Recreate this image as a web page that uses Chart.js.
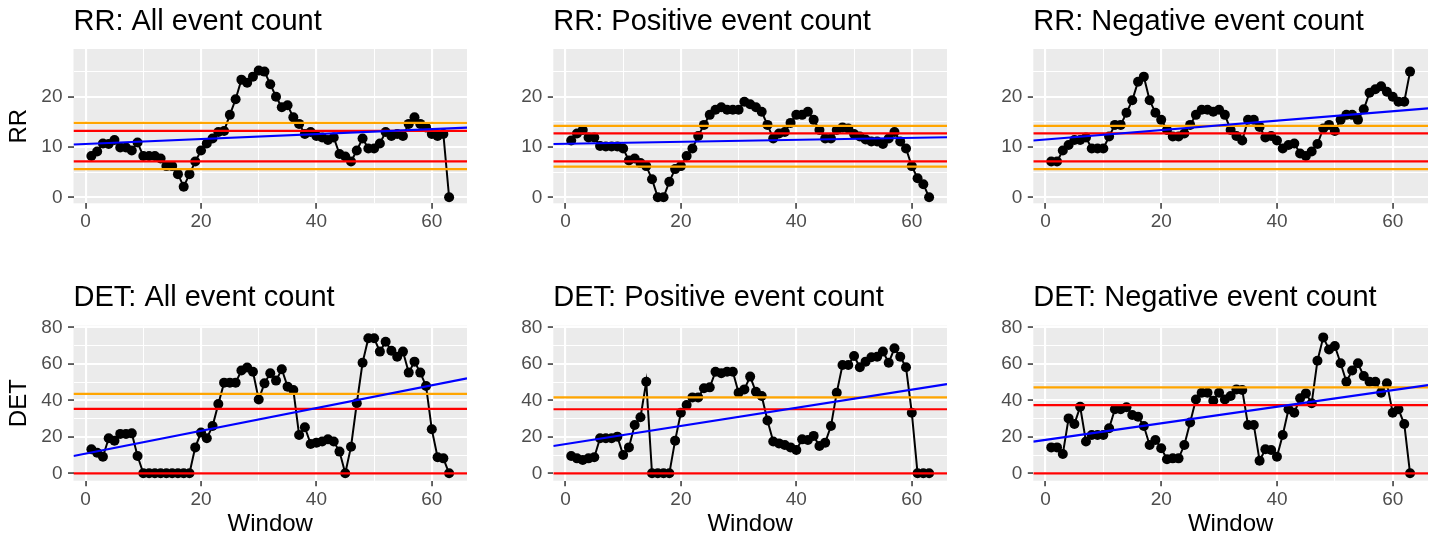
<!DOCTYPE html>
<html><head><meta charset="utf-8">
<script src="https://cdn.jsdelivr.net/npm/chart.js@4.4.1/dist/chart.umd.min.js"></script>
<style>
html,body{margin:0;padding:0;background:#fff;}
body{width:1432px;height:538px;overflow:hidden;position:relative;}
canvas{position:absolute;}
</style></head><body>
<canvas id="c0"></canvas><canvas id="c1"></canvas><canvas id="c2"></canvas>
<canvas id="c3"></canvas><canvas id="c4"></canvas><canvas id="c5"></canvas>
<script>
// ---------------- data ----------------
const windowIdx = [1,2,3,4,5,6,7,8,9,10,11,12,13,14,15,16,17,18,19,20,21,22,23,24,25,26,27,28,29,30,31,32,33,34,35,36,37,38,39,40,41,42,43,44,45,46,47,48,49,50,51,52,53,54,55,56,57,58,59,60,61,62,63];

const rrAll = [8.2,9.1,10.7,10.6,11.4,9.9,9.9,9.3,10.9,8.2,8.2,8.2,7.7,6.2,6.2,4.6,2.1,4.6,7.1,9.3,10.7,11.7,13.0,13.2,16.4,19.5,23.4,22.8,24.0,25.2,25.0,22.5,20.0,17.9,18.3,15.9,14.6,12.6,13.0,12.2,11.9,11.4,11.9,8.6,8.1,7.1,9.3,11.7,9.7,9.7,10.7,13.0,12.2,12.6,12.2,14.6,15.9,14.6,13.9,12.6,12.2,12.6,0];
const rrPos = [11.3,12.7,13.4,11.9,11.9,10.2,10.1,10.1,10.1,9.7,7.3,7.7,6.8,6.2,3.6,0,0,3.1,5.6,6.2,8.2,9.7,12.2,14.4,16.4,17.4,17.9,17.4,17.4,17.4,19.0,18.5,17.9,17.0,14.4,11.7,12.7,13.0,14.8,16.4,16.4,17.0,15.4,13.4,11.7,11.7,13.4,13.9,13.7,12.6,12.1,11.5,11.1,11.1,10.6,11.7,13.0,11.1,9.7,6.2,3.8,2.6,0];
const rrNeg = [7.1,7.1,9.3,10.4,11.4,11.4,11.9,9.7,9.7,9.7,12.1,14.4,14.4,16.8,19.3,23.0,24.0,19.3,16.8,15.4,13.4,12.1,12.1,12.7,14.4,16.4,17.4,17.4,17.0,17.4,16.4,13.4,12.2,11.3,15.4,15.4,14.0,11.9,12.2,11.3,9.7,10.4,10.7,8.7,8.2,9.1,10.6,13.7,14.4,13.2,15.4,16.4,16.4,15.4,17.5,20.8,21.5,22.1,21.0,20.0,19.0,19.0,25.0];
const detAll = [13.2,11.3,9.1,19.2,17.9,21.6,21.6,21.9,9.5,0,0,0,0,0,0,0,0,0,14.2,22.3,19.2,25.9,38.0,49.7,49.7,49.7,56.3,58.0,55.7,40.5,49.3,54.8,50.8,57.0,47.5,45.7,21.0,25.2,16.1,16.8,17.4,18.6,17.4,11.9,0,14.6,38.4,60.6,74.0,74.0,66.7,72.1,67.2,63.9,66.7,55.2,61.2,55.2,47.9,24.1,8.8,8.2,0];
const detPos = [9.5,8.2,7.3,8.2,8.8,19.2,19.2,19.2,20.1,10.0,14.2,26.5,30.7,50.2,0,0,0,0,17.9,33.2,37.4,41.6,41.6,46.6,47.1,55.7,54.8,55.7,55.7,44.2,46.0,53.0,44.7,42.4,28.9,17.4,16.4,15.5,14.2,12.8,18.6,18.3,20.5,15.0,16.8,25.9,44.2,59.4,59.4,64.3,58.1,61.2,63.6,63.9,66.7,60.6,68.5,63.9,58.1,33.2,0,0,0];
const detNeg = [14.2,14.2,10.6,30.1,27.0,36.5,17.4,21.0,21.0,21.0,24.7,35.1,35.1,36.2,32.0,31.0,25.9,15.5,18.3,13.7,7.7,8.2,8.2,15.5,27.8,40.5,44.2,44.2,39.8,44.2,40.5,42.4,46.0,45.7,26.5,26.5,6.9,13.2,12.8,9.1,21.0,35.1,33.2,41.1,43.8,38.4,61.7,74.5,67.9,69.8,60.3,50.2,56.3,60.3,53.3,50.2,50.2,44.2,49.3,33.2,35.1,27.0,0];

const panelTitles = ["RR: All event count","RR: Positive event count","RR: Negative event count",
                     "DET: All event count","DET: Positive event count","DET: Negative event count"];
const orangeLines = [[14.8,5.6],[14.2,6.1],[14.2,5.6],[43.5],[41.6],[47.1]];
const redLines    = [[13.2,7.15],[12.7,7.15],[12.7,7.15],[35.3,0],[35.1,0],[37.4,0]];
// blue trend line values read at the left and right panel edges
const trendEnds   = [[10.50,13.84],[10.60,11.94],[11.29,17.70],[9.49,52.05],[14.95,48.92],[17.34,48.38]];

const xLimits = [-2.1, 66.1];
const xTicksMajor = [0,20,40,60];
const xTicksMinor = [10,30,50];
const rrLimits = [-1.2, 29.5];
const rrTicksMajor = [0,10,20];
const rrTicksMinor = [5,15,25];
const detLimits = [-4.05, 80.9];
const detTicksMajor = [0,20,40,60,80];
const detTicksMinor = [10,30,50,70];
const yTitles = ["RR","DET"];
const xTitle = "Window";

// ---------------- layout ----------------
const FONT = "'Liberation Sans', Arial, Helvetica, sans-serif";
const cols = [
  {left:0,   width:475, axisW:73.5, padR:8},
  {left:500, width:455, axisW:53.3, padR:8},
  {left:980, width:452, axisW:53.3, padR:4}
];
const rows = [
  {top:0,   height:240, tPadTop:7, tPadBot:13,   xAxisH:36.7},
  {top:277, height:261, tPadTop:6, tPadBot:13.7, xAxisH:57.3}
];

const panelBg = {
  id:'panelBg',
  beforeDraw(chart){
    const {ctx, chartArea:{left,top,width,height}} = chart;
    ctx.save(); ctx.fillStyle = '#EBEBEB'; ctx.fillRect(left, top, width, height); ctx.restore();
  }
};

function tickSet(major, minor){ return major.concat(minor).sort((a,b)=>a-b); }

function axisGrid(major){
  return {
    color:'#FFFFFF',
    lineWidth:(c)=> (c.tick && major.includes(c.tick.value)) ? 2.1 : 1,
    tickColor:(c)=> (c.tick && major.includes(c.tick.value)) ? '#333333' : 'rgba(0,0,0,0)',
    tickLength:5.5, tickWidth:1.5, drawTicks:true
  };
}

const seriesList = [rrAll, rrPos, rrNeg, detAll, detPos, detNeg];

for (let p = 0; p < 6; p++) {
  const r = Math.floor(p/3), c = p % 3;
  const col = cols[c], row = rows[r];
  const cv = document.getElementById('c'+p);
  cv.width = col.width; cv.height = row.height;
  cv.style.left = col.left+'px'; cv.style.top = row.top+'px';
  cv.style.width = col.width+'px'; cv.style.height = row.height+'px';

  const yLim = r===0 ? rrLimits : detLimits;
  const yMaj = r===0 ? rrTicksMajor : detTicksMajor;
  const yMin = r===0 ? rrTicksMinor : detTicksMinor;
  const series = seriesList[p];

  const datasets = [];
  datasets.push({
    data: windowIdx.map((w,i)=>({x:w, y:series[i]})),
    borderColor:'#000000', borderWidth:2,
    pointRadius:5, pointBackgroundColor:'#000000', pointBorderWidth:0,
    pointHoverRadius:5, order:5
  });
  orangeLines[p].forEach(v=>datasets.push({
    data:[{x:xLimits[0],y:v},{x:xLimits[1],y:v}], borderColor:'#FFA500', borderWidth:2.2, pointRadius:0, order:3
  }));
  redLines[p].forEach(v=>datasets.push({
    data:[{x:xLimits[0],y:v},{x:xLimits[1],y:v}], borderColor:'#FF0000', borderWidth:2.2, pointRadius:0, order:2
  }));
  datasets.push({
    data:[{x:xLimits[0],y:trendEnds[p][0]},{x:xLimits[1],y:trendEnds[p][1]}],
    borderColor:'#0000FF', borderWidth:2.2, pointRadius:0, order:1
  });

  new Chart(cv, {
    type:'line',
    data:{datasets},
    plugins:[panelBg],
    options:{
      responsive:false, devicePixelRatio:1, animation:false, events:[],
      layout:{autoPadding:false, padding:{left:0, right:col.padR, top:0, bottom:0}},
      plugins:{
        legend:{display:false}, tooltip:{enabled:false},
        title:{display:true, text:panelTitles[p], align:'start', fullSize:false, color:'#000000',
               font:{family:FONT, size:29, weight:'normal', lineHeight:1},
               padding:{top:row.tPadTop, bottom:row.tPadBot}}
      },
      scales:{
        x:{
          type:'linear', min:xLimits[0], max:xLimits[1],
          afterBuildTicks:(s)=>{ s.ticks = tickSet(xTicksMajor, xTicksMinor).map(v=>({value:v})); },
          afterFit:(s)=>{ s.height = row.xAxisH; },
          ticks:{autoSkip:false, maxRotation:0, color:'#4D4D4D', padding:3.8,
                 font:{family:FONT, size:19, lineHeight:1},
                 callback:(v)=> xTicksMajor.includes(v) ? String(v) : ''},
          grid:axisGrid(xTicksMajor),
          border:{display:false},
          title:{display:r===1, text:xTitle, color:'#000000',
                 font:{family:FONT, size:24, lineHeight:1}, padding:{top:0, bottom:2}}
        },
        y:{
          type:'linear', min:yLim[0], max:yLim[1],
          afterBuildTicks:(s)=>{ s.ticks = tickSet(yMaj, yMin).map(v=>({value:v})); },
          afterFit:(s)=>{ s.width = col.axisW; },
          ticks:{autoSkip:false, color:'#4D4D4D', padding:5.5,
                 font:{family:FONT, size:19, lineHeight:1},
                 callback:(v)=> yMaj.includes(v) ? String(v) : ''},
          grid:axisGrid(yMaj),
          border:{display:false},
          title:{display:c===0, text:yTitles[r], color:'#000000',
                 font:{family:FONT, size:24, lineHeight:1}, padding:{top:7.7, bottom:0}}
        }
      }
    }
  });
}
</script>
</body></html>
